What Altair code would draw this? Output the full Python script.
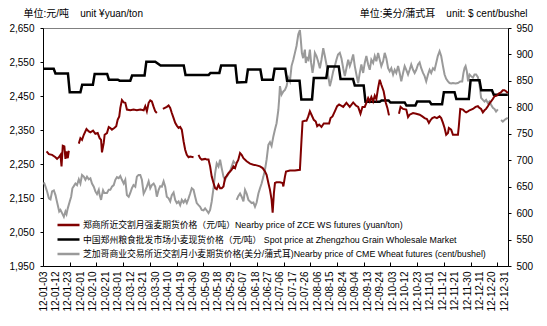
import altair as alt
import pandas as pd

FONT = "Liberation Sans, Arial, Noto Sans CJK SC, sans-serif"

# ---- category axis (business days, 0 = 2012-01-03) ----
date_labels = ["12-01-03", "12-01-12", "12-01-23", "12-02-01", "12-02-10", "12-02-21",
               "12-03-01", "12-03-12", "12-03-21", "12-03-30", "12-04-10", "12-04-19",
               "12-04-30", "12-05-09", "12-05-18", "12-05-29", "12-06-07", "12-06-18",
               "12-06-27", "12-07-06", "12-07-17", "12-07-26", "12-08-06", "12-08-15",
               "12-08-24", "12-09-04", "12-09-13", "12-09-24", "12-10-03", "12-10-12",
               "12-10-23", "12-11-01", "12-11-12", "12-11-21", "12-11-30", "12-12-11",
               "12-12-20", "12-12-31"]
label_step = 7
minor_tick_step = 15

S_ZCE = "郑商所近交割月强麦期货价格（元/吨）Nearby price of ZCE WS futures (yuan/ton)"
S_SPOT = "中国郑州粮食批发市场小麦现货价格（元/吨） Spot price at Zhengzhou Grain Wholesale Market"
S_CME = "芝加哥商业交易所近交割月小麦期货价格(美分/蒲式耳)Nearby price of CME Wheat futures (cent/bushel)"
series_names = [S_ZCE, S_SPOT, S_CME]
series_colors = ["#800000", "#000000", "#9a9a9a"]

left_ticks = [1950, 2050, 2150, 2250, 2350, 2450, 2550, 2650]
right_ticks = [500, 550, 600, 650, 700, 750, 800, 850, 900, 950]

# ---- Spot price (yuan/ton), step series ----
spot_pos = [0.5, 6, 7, 14, 15, 21, 22, 28, 29, 36, 37, 42, 43, 49, 50, 57, 58, 63, 66, 79,
            80, 93, 94, 99, 100, 108, 109, 114, 115, 122, 123, 129, 130, 136, 137, 144, 145, 151, 152, 159,
            160, 166, 167, 174, 175, 180, 181, 189, 190, 194, 195, 203, 204, 209, 210, 217, 218, 224, 225, 231,
            232, 239, 240, 245, 246, 252, 253, 260.9]
spot_val = [2530, 2530, 2516, 2516, 2461, 2461, 2483, 2483, 2515, 2515, 2498, 2498, 2495, 2495, 2510, 2510, 2551, 2551, 2540, 2540,
            2512, 2512, 2518, 2518, 2540, 2540, 2490, 2491, 2528, 2528, 2498, 2498, 2530, 2530, 2495, 2495, 2440, 2440, 2503, 2503,
            2537, 2537, 2500, 2500, 2481, 2481, 2433, 2433, 2437, 2437, 2431, 2431, 2422, 2422, 2434, 2434, 2426, 2426, 2461, 2461,
            2441, 2441, 2496, 2496, 2467, 2467, 2454, 2454]
spot_breaks = []

# ---- ZCE WS futures (yuan/ton) ----
zce_pos = [2, 3.3, 5.1, 7, 7.9, 8.9, 9.8, 10.4, 11.1, 12, 12.6, 13.2, 13.9, 14.5,
           20.1, 21, 21.9, 22.9, 24.4, 25.7, 26.6, 28.1, 29.4, 30.7, 31.8, 32.6, 33.1, 34.1, 34.6, 35.9, 36.9, 37.8, 38.7, 40,
           41.1, 41.9, 42.8, 43.4, 44.3, 45.3, 46.2, 47.1, 49, 50.8, 52.7, 54.6, 56.5, 57.4, 58.3, 59.3, 60.2, 61.1, 62.1, 63, 63.9,
           67.3, 69.5, 70.5, 71.4, 72.3, 73.3, 74.2, 75.1, 76.1, 77, 77.9, 78.9, 79.8, 80.7, 81.7, 82.6, 84.5,
           87.3, 88.2, 89.1, 91, 91.9, 92.9, 93.8, 94.7, 95.7, 96.6, 97.5, 98.5, 99.4, 100.3, 101.3, 102.2, 103.1, 104.1, 105, 105.9,
           106.9, 107.8, 108.7, 109.6, 110.6, 111.5, 112.5, 114.3, 116.2, 118.1, 119.9, 121.8, 123.3, 124.6, 125.5, 126.5, 127.4, 128.3, 128.9, 129.6,
           130.2, 131.1, 133, 134.5, 134.9, 135.8, 136.4, 138.6, 141.4, 144.2, 145.1, 145.7, 147, 147.9, 148.9, 149.8, 150.7, 152, 153.1, 153.9,
           155, 156.3, 157.6, 159.1, 160.6, 161.4, 162.5, 163.8, 165.1, 166.2, 168.5, 170.3, 172.2, 174.1, 175.6, 176.9, 178.2, 179.3, 180.6, 181.5,
           182.5, 183.4, 184.3, 185.3, 186.2, 187.1, 188.1, 189, 189.9, 191.2, 192.4, 193.3, 194.2,
           199.8, 200.7, 202.1, 203.9, 204.9, 205.8, 207.7, 209.5, 211.4, 212.9, 214.2, 215.5, 216.6, 217.4, 218.5, 219.8, 221.1, 222.6, 223.5, 224.5,
           225.4, 226.3, 227.3, 227.8, 229.1, 230.1, 231, 232.9, 233.4, 234.2, 235.7, 236.6, 237.5, 238.5, 239.4, 241.3, 242.8, 244.1, 245, 245.9,
           246.9, 247.8, 248.7, 249.7, 250.6, 251.5, 252.5, 253.4, 254.7, 255.8, 257.1, 258.1, 259, 259.9, 260.9]
zce_val = [2287, 2279, 2277, 2270, 2265, 2270, 2277, 2243, 2304, 2302, 2265, 2287, 2267, 2289,
           2310, 2326, 2321, 2336, 2353, 2346, 2343, 2348, 2339, 2341, 2326, 2321, 2284, 2312, 2336, 2341, 2359, 2356, 2351, 2356,
           2361, 2380, 2390, 2415, 2438, 2431, 2430, 2410, 2408, 2410, 2408, 2410, 2408, 2420, 2405, 2430, 2437, 2434, 2418, 2405, 2400,
           2412, 2418, 2422, 2415, 2400, 2385, 2371, 2363, 2356, 2359, 2351, 2317, 2292, 2277, 2270, 2272, 2270,
           2277, 2267, 2263, 2265, 2263, 2263, 2243, 2213, 2194, 2179, 2176, 2189, 2179, 2179, 2184, 2209, 2215, 2223, 2228, 2233,
           2243, 2238, 2253, 2262, 2282, 2277, 2267, 2258, 2251, 2248, 2246, 2243, 2238, 2228, 2218, 2194, 2174, 2145, 2107, 2164,
           2194, 2196, 2196, 2194, 2184, 2213, 2228, 2231, 2231, 2233, 2321, 2375, 2377, 2377, 2390, 2405, 2395, 2380, 2375, 2361,
           2366, 2359, 2369, 2369, 2369, 2385, 2390, 2405, 2420, 2425, 2418, 2430, 2418, 2431, 2422, 2418, 2398, 2418, 2418, 2430,
           2444, 2434, 2447, 2434, 2451, 2441, 2474, 2498, 2483, 2464, 2430, 2415, 2393,
           2398, 2418, 2412, 2410, 2388, 2395, 2400, 2398, 2395, 2390, 2385, 2382, 2371, 2378, 2385, 2388, 2385, 2390, 2385, 2371,
           2356, 2336, 2341, 2356, 2351, 2336, 2336, 2336, 2361, 2412, 2410, 2405, 2402, 2405, 2408, 2412, 2418, 2420, 2415, 2412,
           2402, 2408, 2412, 2420, 2428, 2434, 2441, 2449, 2451, 2457, 2461, 2467, 2467, 2464, 2459]
zce_breaks = [16, 65, 86, 197]

# ---- CME wheat futures (cent/bushel) ----
cme_pos = [0.5, 1.4, 2.3, 3.3, 4.2, 5.1, 6.1, 7, 7.6, 8.3, 9.1, 9.8, 10.7, 11.7, 12.6, 13.2, 13.9, 15, 15.8, 16.5,
           17.3, 18.2, 19.1, 20.1, 21, 21.9, 22.9, 23.8, 24.7, 25.7, 26.6, 27.5, 28.5, 29.4, 30.3, 31.3, 31.8, 32.6, 33.1, 33.7,
           34.4, 35.9, 36.9, 37.8, 38.7, 39.7, 40.6, 41.5, 42.5, 43.4, 44.3, 45.3, 46.2, 47.1, 48.1, 49, 49.9, 50.8, 51.8, 52.7, 53.6,
           54.6, 55.5, 56.5, 57.4, 58.3, 59.3, 60.2, 61.1, 62.1, 63, 63.9, 64.9, 65.8, 66.7, 67.7, 68.6, 69.5, 70.5, 71.4, 72.3,
           73.3, 74.2, 75.1, 76.1, 77, 77.9, 78.9, 79.8, 80.7, 81.7, 82.6, 83.5, 84.5, 85.4, 86.3, 87.3, 88.2, 89.1, 90.1, 91,
           91.9, 92.9, 93.8, 94.7, 95.7, 96.6, 97.5, 98.5, 99.4, 100.3, 101.3, 102.2, 103.1, 104.1, 105, 105.9, 106.9, 107.8,
           108.7, 109.6,
           110.6, 111.5, 112.5, 113.4, 114.3, 115.3, 116.2, 117.1, 118.1, 119, 119.9, 120.9, 121.8, 122.7, 123.7, 124.6, 125.5, 126.5, 127.4, 128.3,
           129.3, 130.2, 131.1, 132.1, 132.6, 133, 133.9, 134.9, 135.8, 136.7, 137.7, 138.6, 139.5, 140.5, 141.4, 142.3, 143.3, 144.2, 144.7, 145.3,
           146, 147, 147.5, 148.3, 149, 149.8, 150.5, 151.3, 152, 152.6, 153.5, 154.4, 155.4, 156.3, 157.3, 158.2, 159.1, 160.1, 161, 161.9,
           162.9, 163.8, 164.7, 165.6,
           166.6, 167.5, 168.5, 169.4, 170.3, 171.3, 172.2, 173.1, 174.1, 175, 175.9, 176.9, 177.8, 178.7, 179.7, 180.6, 181.5, 182.5, 183.4, 184.3,
           185.3, 186.2, 187.1, 188.1, 189, 189.9, 190.9, 191.8, 192.7, 193.7, 194.6, 195.5, 196.5, 197.4, 198.3, 199.3, 200.2, 201.1, 202.1, 203,
           203.9, 204.9, 205.8, 206.7, 207.7, 208.6, 209.5, 210.5, 211.4, 212.3, 213.3, 214.2, 215.1, 216.1, 217, 217.9, 218.9, 219.8, 220.7, 221.6,
           222.6, 223.5, 224.5, 225.4, 226.3, 227.3, 228.2, 229.1, 230.1, 231.6, 232.9, 234.2, 235.3, 236, 236.6, 237.2, 237.9, 238.6, 239.4, 240.3,
           241.3, 242.2, 243.1, 244.1, 245, 245.9, 246.9, 247.8, 248.7, 249.7, 250.6, 251.5, 252.5, 253.4, 254.3, 255.3,
           257.1, 258.1, 259, 259.9, 260.9]
cme_val = [658, 650, 641, 628, 626, 641, 643, 634, 625, 615, 603, 606, 600, 593, 603, 598, 609, 622, 631, 647,
           651, 656, 653, 664, 656, 672, 669, 663, 669, 664, 666, 656, 650, 641, 636, 644, 634, 625, 634, 643,
           638, 638, 644, 644, 650, 653, 663, 668, 666, 670, 663, 656, 663, 634, 631, 638, 647, 653, 650, 669, 672,
           672, 663, 637, 643, 650, 660, 647, 653, 656, 650, 631, 644, 651, 650, 660, 650, 631, 628, 622, 634,
           639, 625, 619, 622, 615, 625, 620, 625, 619, 628, 637, 647, 644, 631, 619, 615, 612, 606, 605, 609,
           605, 600, 606, 622, 647, 675, 694, 688, 701, 685, 669, 663, 669, 674, 679, 688, 698, 694,
           625, 632,
           637, 631, 622, 644, 637, 625, 622, 619, 620, 612, 620, 637, 647, 656, 669, 682, 701, 729, 734, 727,
           745, 758, 770, 795, 818, 840, 824, 830, 833, 840, 856, 849, 878, 890, 903, 916, 938, 946, 928, 903,
           893, 909, 884, 893, 890, 909, 884, 865, 881, 903, 897, 887, 874, 890, 912, 897, 881, 859, 840, 852,
           868, 878, 890, 900,
           903, 893, 874, 859, 874, 890, 878, 887, 900, 878, 862, 846, 865, 881, 865, 884, 897, 881, 871, 890,
           884, 897, 887, 903, 890, 878, 887, 903, 893, 874, 868, 874, 862, 871, 865, 878, 865, 849, 865, 878,
           871, 862, 871, 881, 871, 865, 871, 881, 885, 874, 865, 859, 849, 862, 871, 865, 874, 871, 884, 897,
           906, 897, 878, 862, 854, 849, 846, 845, 846, 845, 846, 849, 849, 865, 874, 878, 868, 849, 862, 859,
           856, 862, 862, 857, 843, 818, 814, 811, 814, 808, 811, 805, 799, 797, 792, 796,
           776, 773, 776, 778, 780]
cme_breaks = [108.2, 256]


def frame(name, pos, val, breaks):
    seg = [sum(1 for b in breaks if p > b) for p in pos]
    return pd.DataFrame({"pos": pos, "val": val, "seg": seg, "series": name})


df_spot = frame(S_SPOT, spot_pos, spot_val, spot_breaks)
df_zce = frame(S_ZCE, zce_pos, zce_val, zce_breaks)
df_cme = frame(S_CME, cme_pos, cme_val, cme_breaks)

W, H = 465, 238
label_values = [i * label_step for i in range(len(date_labels))]
labels_js = "[" + ",".join("'%s'" % d for d in date_labels) + "]"

x_scale = alt.Scale(domain=[0, 261], nice=False, zero=False)

color = alt.Color(
    "series:N",
    scale=alt.Scale(domain=series_names, range=series_colors),
    legend=alt.Legend(
        orient="none", legendX=13, legendY=191, title=None,
        symbolType="stroke", symbolSize=484, symbolStrokeWidth=2.5,
        labelFontSize=8.8, labelLimit=700, labelFont=FONT, labelColor="#000000",
        rowPadding=2.5, clipHeight=12, padding=0, labelOffset=2,
    ),
)

x_label_axis = alt.Axis(
    orient="bottom", values=label_values, labelExpr=labels_js + "[round(datum.value / %d)]" % label_step,
    labelAngle=270, ticks=False, grid=False, domain=True, domainColor="#000000",
    labelPadding=5, labelFontSize=10, labelColor="#000000", title=None, labelOverlap=False,
)
x_tick_axis = alt.Axis(
    orient="top", offset=-H, values=list(range(minor_tick_step, 260, minor_tick_step)),
    labels=False, domain=False, ticks=True, tickSize=4, tickColor="#000000", grid=False, title=None,
)

left_axis = alt.Axis(
    orient="left", values=left_ticks, format=",d", tickSize=3, labelPadding=6, grid=False,
    labelFontSize=10, labelColor="#000000", domainColor="#000000", tickColor="#000000",
    title="单位:元/吨\u00a0\u00a0\u00a0\u00a0unit ¥yuan/ton", titleAngle=0, titleX=-20, titleY=-15,
    titleAlign="left", titleBaseline="middle", titleFontSize=10, titleFontWeight="normal",
    titleColor="#000000", titleFont=FONT,
)
right_axis = alt.Axis(
    orient="right", values=right_ticks, format="d", tickSize=3, labelPadding=5, grid=False,
    labelFontSize=10, labelColor="#000000", domainColor="#000000", tickColor="#000000",
    title="单位:美分/蒲式耳\u00a0\u00a0\u00a0\u00a0unit: $ cent/bushel", titleAngle=0, titleX=19, titleY=-15,
    titleAlign="right", titleBaseline="middle", titleFontSize=10, titleFontWeight="normal",
    titleColor="#000000", titleFont=FONT,
)

gray = alt.Chart(df_cme).mark_line(strokeWidth=2).encode(
    x=alt.X("pos:Q", scale=x_scale, axis=x_tick_axis),
    y=alt.Y("val:Q", scale=alt.Scale(domain=[500, 950], nice=False, zero=False), axis=right_axis),
    color=color,
    detail="seg:N",
    order="pos:Q",
)

y_left = alt.Y("val:Q", scale=alt.Scale(domain=[1950, 2650], nice=False, zero=False), axis=left_axis)
black = alt.Chart(df_spot).mark_line(strokeWidth=2.5).encode(
    x=alt.X("pos:Q", scale=x_scale, axis=x_label_axis),
    y=y_left, color=color, detail="seg:N", order="pos:Q",
)
red = alt.Chart(df_zce).mark_line(strokeWidth=2).encode(
    x=alt.X("pos:Q", scale=x_scale, axis=x_label_axis),
    y=y_left, color=color, detail="seg:N", order="pos:Q",
)

chart = (
    alt.layer(gray, alt.layer(black, red))
    .resolve_scale(y="independent")
    .resolve_axis(x="independent")
    .properties(width=W, height=H, autosize="none",
                padding={"left": 43, "top": 28, "right": 39, "bottom": 60})
    .configure(font=FONT)
    .configure_axis(labelFont=FONT, titleFont=FONT)
    .configure_view(stroke="#808080", strokeWidth=1)
)

chart.save("out.html", embed_options={"renderer": "svg", "actions": False})
